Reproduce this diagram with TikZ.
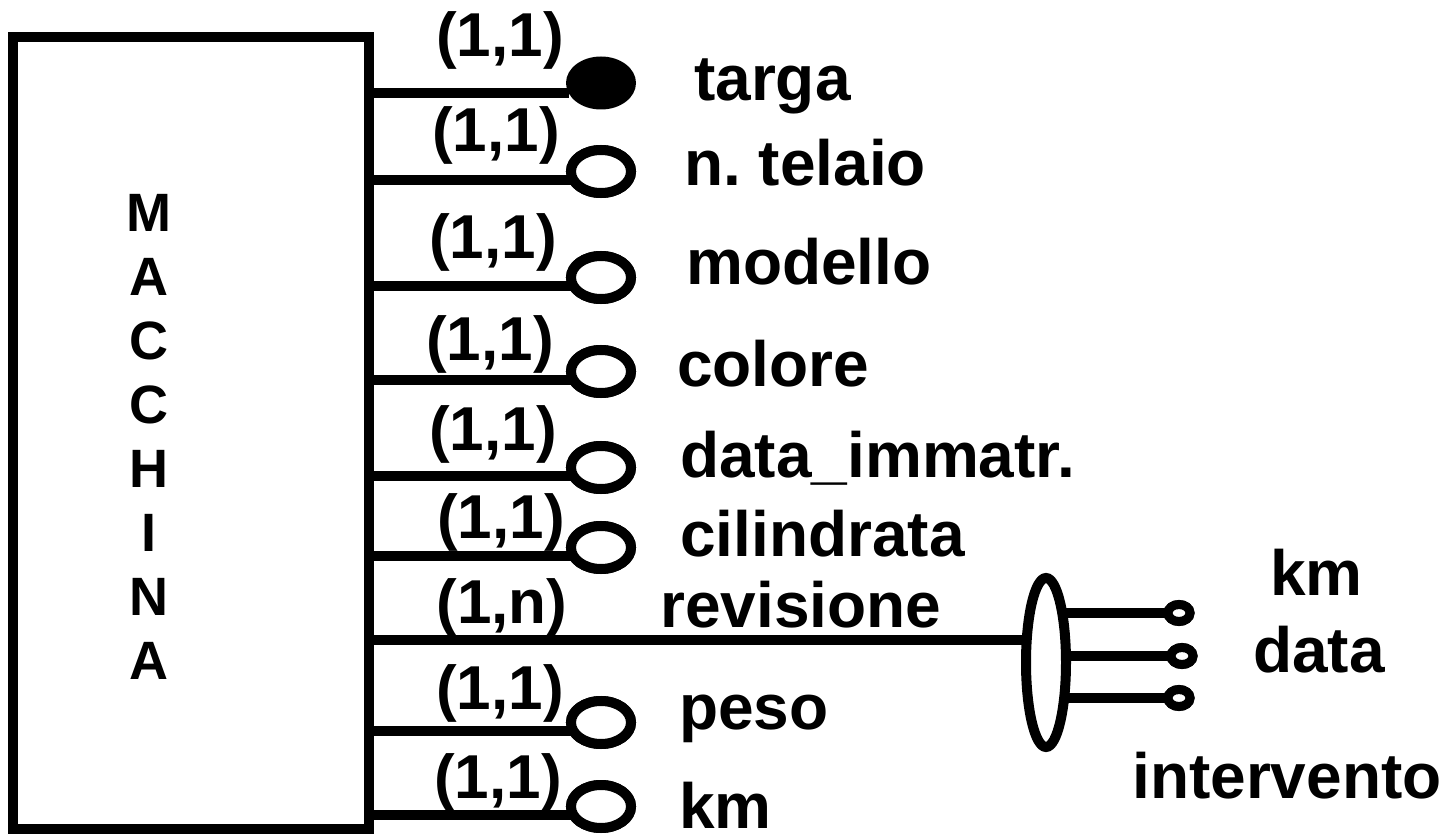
\documentclass[tikz,border=0pt]{standalone}
\usepackage{fontspec}
\setmainfont{Liberation Sans}
\usetikzlibrary{shapes.geometric}
\frenchspacing
\begin{document}
\begin{tikzpicture}[x=1pt,y=-1pt,
  lw/.style={line width=10pt},
  entity/.style={draw, line width=10pt, inner sep=0pt, outer sep=0pt},
  attr/.style={ellipse, draw, line width=10pt, minimum width=60pt, minimum height=43pt, inner sep=0pt, outer sep=0pt, fill=white},
  keyattr/.style={ellipse, fill=black, minimum width=70pt, minimum height=53pt, inner sep=0pt, outer sep=0pt},
  subattr/.style={ellipse, draw, line width=9pt, minimum width=22pt, minimum height=17pt, inner sep=0pt, outer sep=0pt, fill=white},
  group/.style={ellipse, draw, line width=10pt, minimum width=40pt, minimum height=169pt, inner sep=0pt, outer sep=0pt},
  lbl/.style={font=\fontsize{64}{64}\selectfont\bfseries, anchor=base west, inner sep=0pt},
  card/.style={font=\fontsize{62}{62}\selectfont\bfseries, anchor=base, inner sep=0pt},
  ent/.style={font=\fontsize{54}{54}\selectfont\bfseries, anchor=base, inner sep=0pt}]
\useasboundingbox (0,0) rectangle (1441,834);

% entity
\node[entity, minimum width=356pt, minimum height=792pt, anchor=north west] (mac) at (13,37) {};
\foreach \ch [count=\i from 0] in {M,A,C,C,H,I,N,A}
  \node[ent] (m\i) at (149,{231.5+64*\i}) {\ch};

% attribute end points
\node[keyattr] (a1) at (601,83) {};
\node[attr] (a2) at (601,171.5) {};
\node[attr] (a3) at (601,277.5) {};
\node[attr] (a4) at (601,371.5) {};
\node[attr] (a5) at (601,467.5) {};
\node[attr] (a6) at (601,547.5) {};
\node[attr] (a8) at (601,722.5) {};
\node[attr] (a9) at (601,806.5) {};

% composite attribute
\node[group] (rev) at (1046,662.5) {};
\node[subattr] (s1) at (1179,613) {};
\node[subattr] (s2) at (1182,656) {};
\node[subattr] (s3) at (1179,698) {};

% connectors
\draw[lw] (a1.198) -- (a1.198 -| mac.east);
\foreach \n in {2,3,4,5,6,8,9}
  \draw[lw] (a\n.197) -- (a\n.197 -| mac.east);
\draw[lw] (rev.131) -- (rev.131 -| mac.east);
\foreach \n in {1,2,3}
  \draw[lw] (s\n.west) -- (s\n.west -| rev.east);

% redraw open circles on top
\foreach \n/\y in {2/171.5,3/277.5,4/371.5,5/467.5,6/547.5,8/722.5,9/806.5}
  \node[attr] at (601,\y) {};
\foreach \n/\x/\y in {1/1179/613,2/1182/656,3/1179/698}
  \node[subattr] at (\x,\y) {};

% cardinalities
\node[card] (c1) at (500,57) {(1,1)};
\node[card] (c2) at (496,152) {(1,1)};
\node[card] (c3) at (493,259) {(1,1)};
\node[card] (c4) at (490,360) {(1,1)};
\node[card] (c5) at (493,450) {(1,1)};
\node[card] (c6) at (501,538) {(1,1)};
\node[card] (c7) at (502,623) {(1,n)};
\node[card] (c8) at (500,709) {(1,1)};
\node[card] (c9) at (498,798) {(1,1)};

% attribute names
\node[lbl] (l1) at (694,101) {targa};
\node[lbl] (l2) at (684,186) {n. telaio};
\node[lbl] (l3) at (686,285) {modello};
\node[lbl] (l4) at (677,386) {colore};
\node[lbl] (l5) at (680,477) {data\_immatr.};
\node[lbl] (l6) at (680,556) {cilindrata};
\node[lbl] (l7) at (660,627) {revisione};
\node[lbl] (l8) at (679,729) {peso};
\node[lbl] (l9) at (679,828) {km};
\node[lbl] (k1) at (1270,595) {km};
\node[lbl] (k2) at (1253,672) {data};
\node[lbl] (k3) at (1132,798) {intervento};
\end{tikzpicture}
\end{document}
